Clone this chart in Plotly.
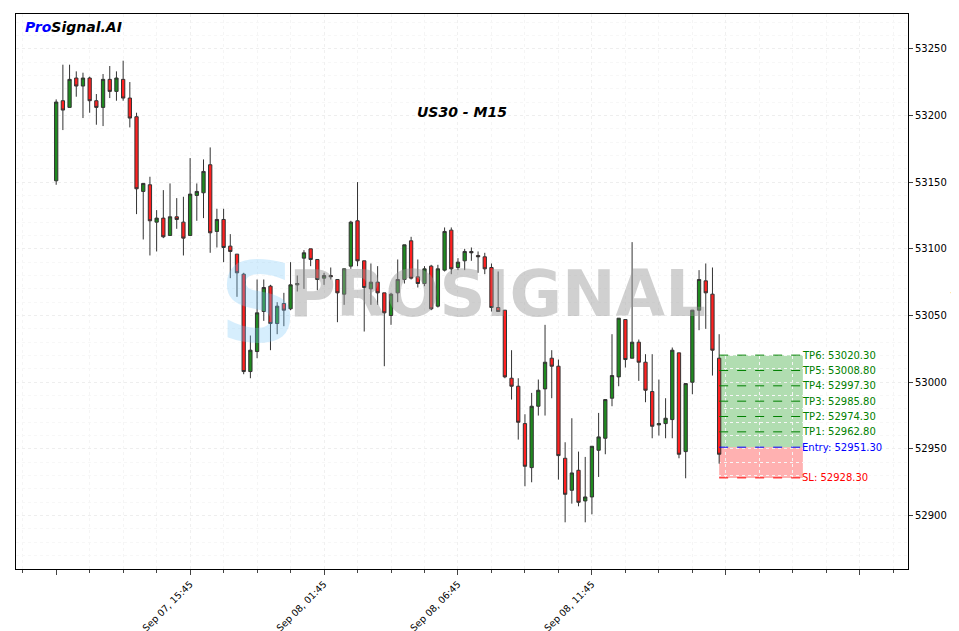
import plotly.graph_objects as go

# OHLC, one M15 candle per row
opens = [53151, 53211, 53206, 53228, 53222, 53228, 53211, 53206, 53227, 53218,
         53227, 53213, 53199, 53143, 53148, 53120, 53123, 53110, 53124, 53120,
         53110, 53140, 53142, 53163, 53113, 53122, 53102, 53096, 53081, 53008,
         53023, 53053, 53072, 53044, 53059, 53055, 53073, 53093, 53100, 53092,
         53078, 53080, 53077, 53066, 53087, 53121, 53091, 53070, 53075, 53067,
         53050, 53067, 53077, 53106, 53079, 53074, 53087, 53057, 53084, 53114,
         53086, 53091, 53098, 53095, 53094, 53086, 53056, 53054, 53003, 52997,
         52969, 52936, 52982, 52995, 53018, 53012, 52943, 52919, 52934, 52911,
         52914, 52949, 52958, 52988, 53004, 53047, 53018, 53030, 53015, 52993,
         52968, 52969, 52972, 53022, 52948, 53000, 53054, 53076, 53066, 53018]
highs = [53212, 53238, 53238, 53233, 53232, 53229, 53216, 53231, 53237, 53233,
         53241, 53225, 53202, 53149, 53154, 53129, 53144, 53149, 53138, 53139,
         53168, 53149, 53167, 53176, 53130, 53130, 53111, 53096, 53082, 53035,
         53077, 53077, 53073, 53060, 53067, 53090, 53080, 53099, 53100, 53092,
         53082, 53086, 53077, 53085, 53121, 53150, 53091, 53089, 53087, 53067,
         53067, 53092, 53103, 53109, 53092, 53087, 53088, 53088, 53116, 53116,
         53093, 53100, 53101, 53098, 53097, 53089, 53083, 53054, 53024, 53003,
         52976, 52992, 53002, 53043, 53024, 53017, 52955, 52973, 52948, 52944,
         52952, 52977, 52987, 53036, 53048, 53047, 53105, 53032, 53021, 53021,
         53002, 52988, 53026, 53022, 52999, 53054, 53084, 53089, 53086, 53036]
lows = [53148, 53189, 53206, 53214, 53198, 53202, 53193, 53192, 53213, 53211,
        53211, 53191, 53126, 53107, 53095, 53098, 53108, 53110, 53115, 53095,
        53110, 53121, 53123, 53097, 53101, 53090, 53078, 53064, 53006, 53003,
        53018, 53046, 53024, 53036, 53042, 53054, 53068, 53070, 53087, 53069,
        53073, 53077, 53045, 53058, 53085, 53087, 53038, 53058, 53058, 53012,
        53043, 53060, 53074, 53077, 53071, 53072, 53054, 53056, 53083, 53081,
        53084, 53084, 53091, 53082, 53081, 53053, 53053, 53003, 52987, 52957,
        52922, 52925, 52975, 52975, 52988, 52927, 52895, 52909, 52907, 52895,
        52901, 52929, 52946, 52982, 52997, 53011, 53018, 53001, 52985, 52958,
        52960, 52958, 52958, 52943, 52928, 52991, 53039, 53040, 53005, 52939]
closes = [53210, 53204, 53227, 53222, 53228, 53211, 53206, 53227, 53218, 53228,
          53213, 53198, 53145, 53149, 53121, 53123, 53109, 53124, 53122, 53108,
          53141, 53143, 53158, 53112, 53122, 53101, 53098, 53082, 53008, 53024,
          53052, 53071, 53044, 53057, 53054, 53073, 53074, 53097, 53092, 53077,
          53080, 53079, 53067, 53085, 53120, 53091, 53071, 53075, 53067, 53052,
          53066, 53077, 53103, 53078, 53074, 53085, 53055, 53085, 53113, 53085,
          53090, 53098, 53097, 53094, 53085, 53056, 53053, 53004, 52997, 52970,
          52937, 52982, 52994, 53015, 53012, 52945, 52916, 52932, 52910, 52914,
          52952, 52959, 52987, 53005, 53048, 53017, 53030, 53015, 52994, 52967,
          52969, 52973, 53024, 52946, 52999, 53054, 53077, 53067, 53024, 52946]

tick_idx = [0, 20, 40, 60, 80, 100, 120]
tick_text = ["Sep 07, 10:45", "Sep 07, 15:45", "Sep 08, 01:45", "Sep 08, 06:45",
             "Sep 08, 11:45", "", ""]

entry = 52951.30
sl = 52928.30
tp_names = ["TP1", "TP2", "TP3", "TP4", "TP5", "TP6"]
tp_levels = [52962.80, 52974.30, 52985.80, 52997.30, 53008.80, 53020.30]

x = list(range(len(opens)))
box_x0 = x[-1]
box_x1 = x[-1] + 12.5

fig = go.Figure()
fig.add_trace(go.Candlestick(
    x=x, open=opens, high=highs, low=lows, close=closes,
    increasing=dict(fillcolor="#1f8a1f", line=dict(color="#333333", width=1)),
    decreasing=dict(fillcolor="#ff2020", line=dict(color="#333333", width=1)),
    whiskerwidth=0, showlegend=False,
))

# target / stop zones
fig.add_shape(type="rect", x0=box_x0, x1=box_x1, y0=entry, y1=tp_levels[-1],
              fillcolor="rgba(60,170,60,0.4)", line_width=0, layer="below")
fig.add_shape(type="rect", x0=box_x0, x1=box_x1, y0=sl, y1=entry,
              fillcolor="rgba(255,100,100,0.5)", line_width=0, layer="below")
for name, lvl in zip(tp_names, tp_levels):
    fig.add_shape(type="line", x0=box_x0, x1=box_x1, y0=lvl, y1=lvl,
                  line=dict(color="green", width=1, dash="dash"))
    fig.add_annotation(x=box_x1, y=lvl, text=f"{name}: {lvl:.2f}", showarrow=False,
                       xanchor="left", xshift=-3, font=dict(color="green", size=10))
fig.add_shape(type="line", x0=box_x0, x1=box_x1, y0=entry, y1=entry,
              line=dict(color="blue", width=1, dash="dash"))
fig.add_annotation(x=box_x1, y=entry, text=f"Entry: {entry:.2f}", showarrow=False,
                   xanchor="left", xshift=-3, font=dict(color="blue", size=10))
fig.add_shape(type="line", x0=box_x0, x1=box_x1, y0=sl, y1=sl,
              line=dict(color="red", width=1, dash="dash"))
fig.add_annotation(x=box_x1, y=sl, text=f"SL: {sl:.2f}", showarrow=False,
                   xanchor="left", xshift=-3, font=dict(color="red", size=10))

# watermark + titles
fig.add_annotation(xref="paper", yref="paper", x=0.54, y=0.495, text="<b>PROSIGNAL</b>",
                   showarrow=False, font=dict(size=64, color="rgba(150,150,150,0.45)",
                                               family="DejaVu Sans"))
fig.add_annotation(xref="paper", yref="paper", x=0.225, y=0.48, text="<b>S</b>",
                   showarrow=False, font=dict(size=110, color="rgba(120,200,250,0.3)",
                                               family="DejaVu Sans"))
fig.add_annotation(xref="paper", yref="paper", x=0.5, y=0.842, text="<b><i>US30 - M15</i></b>",
                   showarrow=False, font=dict(size=14, color="black", family="DejaVu Sans"))
fig.add_annotation(xref="paper", yref="paper", x=0.008, y=0.995, xanchor="left", yanchor="top",
                   text="<b><i><span style='color:blue'>Pro</span>Signal.AI</i></b>",
                   showarrow=False, font=dict(size=14, color="black", family="DejaVu Sans"))

fig.update_layout(
    width=959, height=631, margin=dict(l=8, r=59, t=6, b=70, autoexpand=False),
    paper_bgcolor="white", plot_bgcolor="white",
    font=dict(family="DejaVu Sans", size=10, color="black"),
    xaxis=dict(range=[-6, 127.2], rangeslider=dict(visible=False), automargin=False,
               tickvals=tick_idx, ticktext=tick_text, tickangle=-45,
               tickfont=dict(size=9.5),
               ticks="outside", ticklen=5, showline=True, linecolor="black", mirror=True,
               showgrid=True, gridcolor="#f0f0f0", griddash="dot",
               minor=dict(dtick=5, ticks="outside", ticklen=3, showgrid=True,
                          gridcolor="#f5f5f5")),
    yaxis=dict(side="right", range=[52860, 53276], dtick=50, tickformat="d",
               title=dict(text="Price", standoff=6), automargin=False,
               ticks="outside", ticklen=4, showline=True, linecolor="black", mirror=True,
               showgrid=True, gridcolor="#eeeeee", griddash="dot",
               minor=dict(dtick=10, showgrid=True, gridcolor="#f7f7f7")),
)

fig.write_html("out.html")
